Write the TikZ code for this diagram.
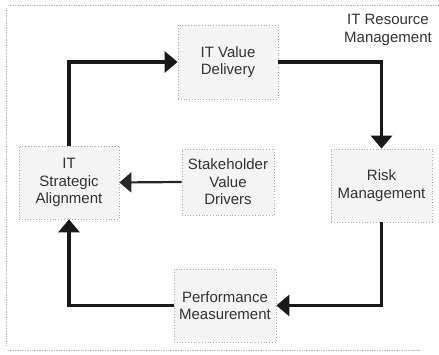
\documentclass[tikz,border=0pt]{standalone}
\usepackage{fontspec}
\setmainfont{Liberation Sans}
\usetikzlibrary{arrows.meta}
\begin{document}
\begin{tikzpicture}[x=1pt,y=-1pt,
  box/.style={draw=gray!65, dotted, line width=0.8pt, fill=gray!9, inner sep=0pt,
    align=center, text=black!80, font=\fontsize{15}{17.5}\selectfont},
  lbl/.style={align=center, text=black!80, font=\fontsize{15}{17.5}\selectfont},
  arr/.style={line width=3.2pt, black!90, -{Triangle[length=13pt,width=21pt]}},
  arrthin/.style={line width=2.2pt, black!85, -{Triangle[length=12pt,width=20pt]}},
  frame/.style={gray!55, densely dotted, line width=0.7pt}]
\useasboundingbox (0,0) rectangle (439,355);
\fill[white] (0,0) rectangle (439,355);
\draw[frame] (8,5) -- (439,5);
\draw[frame] (6,8) -- (6,345);
\draw[frame] (8,350) -- (420,350);
\node[box, minimum width=100pt, minimum height=74pt] (vd) at (228,62) {IT Value\\Delivery};
\node[box, minimum width=100pt, minimum height=73pt] (sa) at (69,182.5) {IT\\Strategic\\Alignment};
\node[box, minimum width=92pt, minimum height=66pt] (sv) at (228,182) {Stakeholder\\Value\\Drivers};
\node[box, minimum width=101pt, minimum height=73pt] (rm) at (381.5,185.5) {Risk\\Management};
\node[box, minimum width=102pt, minimum height=73pt] (pm) at (225,305.5) {Performance\\Measurement};
\node[lbl] (irm) at (388,30) {IT Resource\\Management};
\draw[arr] (sa.north) |- (vd.west);
\draw[arr] (vd.east) -| (rm.north);
\draw[arr] (rm.south) |- (pm.east);
\draw[arr] (pm.west) -| (sa.south);
\draw[arrthin] (sv.west) -- (sa.east);
\end{tikzpicture}
\end{document}
